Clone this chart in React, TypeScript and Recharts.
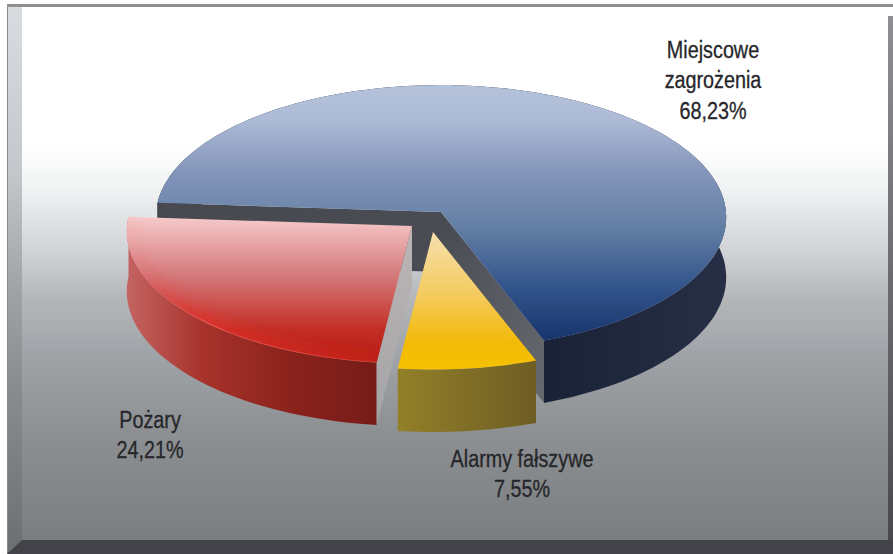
import { Pie, PieChart } from "recharts";

const categories = ["Miejscowe zagrożenia", "Alarmy fałszywe", "Pożary"];
const values = [68.23, 7.55, 24.21];
const labelLines = [["Miejscowe", "zagrożenia"], ["Alarmy fałszywe"], ["Pożary"]];

const W = 893;
const H = 554;
const CX = 442;
const CY = 212;
const RX = 285;
const RY = 132;
const PERSP = 0.04;
const DEPTH = 60;
const FONT = "'Liberation Sans', Arial, sans-serif";

const chartData = categories.map((name, i) => ({ name, value: values[i] }));

// offset of each slice from the disc centre, colours of the faces
const SLICES = [
  { dx: -1, dy: 0, face: "url(#faceBlue)", side: "url(#sideBlue)", startWall: "url(#wallLeft)", endWall: "url(#wallRight)" },
  { dx: -9, dy: 20, face: "url(#faceYellow)", side: "url(#sideYellow)", startWall: null, endWall: null },
  { dx: -30, dy: 14, face: "url(#faceRed)", side: "url(#sideRed)", startWall: "url(#wallRed)", endWall: null },
];

const LABEL_POS = [
  { x: 713, y: 58 },
  { x: 522, y: 467 },
  { x: 150, y: 428 },
];

type P = { x: number; y: number; w: number };

function project(deg: number, dx: number, dy: number): P {
  const a = (deg * Math.PI) / 180;
  const u = Math.cos(a);
  const v = -Math.sin(a);
  const w = 1 - PERSP * v;
  return { x: CX + dx + (RX * u) / w, y: CY + dy + (RY * v) / w, w };
}

const lower = (p: P) => ({ x: p.x, y: p.y + DEPTH / p.w });
const toPath = (pts: { x: number; y: number }[]) =>
  "M" + pts.map((p) => `${p.x.toFixed(1)},${p.y.toFixed(1)}`).join("L") + "Z";
const quad = (a: P, b: P) => toPath([a, b, lower(b), lower(a)]);

function Slice3D(props: any) {
  const i = categories.indexOf(props.name);
  const s = SLICES[i];
  const { startAngle, endAngle } = props;
  const steps = Math.ceil(Math.abs(startAngle - endAngle) / 2);
  const arc: P[] = [];
  for (let k = 0; k <= steps; k++) {
    arc.push(project(startAngle + ((endAngle - startAngle) * k) / steps, s.dx, s.dy));
  }
  const apex: P = { x: CX + s.dx, y: CY + s.dy, w: 1 };
  const sidePath = toPath([...arc, ...[...arc].reverse().map(lower)]);
  const facePath = toPath([apex, ...arc]);
  const rim = "M" + arc.map((p) => `${p.x.toFixed(1)},${p.y.toFixed(1)}`).join("L");
  return (
    <g>
      <path d={sidePath} fill={s.side} />
      {s.startWall && <path d={quad(apex, arc[0])} fill={s.startWall} />}
      {s.endWall && <path d={quad(apex, arc[arc.length - 1])} fill={s.endWall} />}
      <path d={facePath} fill={s.face} />
      {i === 2 && (
        <>
          <clipPath id="redClip">
            <path d={facePath} />
          </clipPath>
          <g clipPath="url(#redClip)">
            <path d={rim} fill="none" stroke="url(#rimSoft)" strokeWidth={18} filter="url(#soft)" />
            <path d={rim} fill="none" stroke="url(#rimLine)" strokeWidth={1.5} />
          </g>
        </>
      )}
    </g>
  );
}

const pct = (v: number) => v.toFixed(2).replace(".", ",") + "%";

function SliceLabel(props: any) {
  const i = categories.indexOf(props.name);
  const pos = LABEL_POS[i];
  const lines = [...labelLines[i], pct(values[i])];
  return (
    <g transform={`translate(${pos.x},${pos.y}) scale(0.86,1)`}>
      {lines.map((line, k) => (
        <text
          key={line}
          x={0}
          y={k * 30.5}
          textAnchor="middle"
          fontFamily={FONT}
          fontSize={23}
          fill="#26262a"
          stroke="#26262a"
          strokeWidth={0.3}
        >
          {line}
        </text>
      ))}
    </g>
  );
}

function Stops({ list }: { list: [number, string][] }) {
  return (
    <>
      {list.map(([o, c]) => (
        <stop key={o} offset={o} stopColor={c} />
      ))}
    </>
  );
}

const box = (extra: object) => ({ position: "absolute" as const, ...extra });

export default function App() {
  return (
    <div style={{ position: "fixed", left: 0, top: 0, width: W, height: H, background: "#fff", overflow: "hidden" }}>
      {/* frame */}
      <div style={box({ left: 7, top: 4, width: 886, height: 3, background: "#8f8f8f" })} />
      <div style={box({ left: 7, top: 7, width: 15, height: 547, background: "linear-gradient(#d8dbdf 0%, #c4c7cb 30%, #a3a6a9 50%, #8a8e90 68%, #6b6f72 100%)", borderLeft: "1px solid #85878a", boxSizing: "border-box" })} />
      <div style={box({ left: 888, top: 16, width: 5, height: 538, background: "linear-gradient(#8e8f92, #47464c)" })} />
      <div
        style={box({
          left: 22,
          top: 7,
          width: 866,
          height: 533,
          background:
            "linear-gradient(#ffffff 0%, #ffffff 26%, #f0f2f3 34%, #d0d2d5 46%, #b4b5b9 55%, #a0a4a8 65%, #8e9194 79%, #7b7e7f 100%)",
        })}
      />
      <div style={box({ left: 7, top: 540, width: 886, height: 14, background: "#45434a", clipPath: "polygon(15px 0, 100% 0, 100% 100%, 0 100%)" })} />

      <div style={box({ left: 0, top: 0 })}>
        <PieChart width={W} height={H} margin={{ top: 0, right: 0, bottom: 0, left: 0 }}>
          <defs>
            <linearGradient id="faceBlue" x1="0" y1="0" x2="0" y2="1">
              <Stops list={[[0, "#b5c2da"], [0.14, "#acbad6"], [0.34, "#8495ba"], [0.55, "#6580a5"], [0.78, "#34568c"], [1, "#17346c"]]} />
            </linearGradient>
            <linearGradient id="sideBlue" x1="0" y1="0" x2="1" y2="0">
              <Stops list={[[0, "#1a2238"], [0.7, "#1b2338"], [1, "#262f45"]]} />
            </linearGradient>
            <linearGradient id="wallLeft" x1="0" y1="0" x2="1" y2="0">
              <Stops list={[[0, "#47494f"], [1, "#4a4c54"]]} />
            </linearGradient>
            <linearGradient id="wallRight" x1="0" y1="0" x2="1" y2="1">
              <Stops list={[[0, "#484a52"], [1, "#666a6e"]]} />
            </linearGradient>
            <linearGradient id="faceYellow" x1="0" y1="0" x2="0" y2="1">
              <Stops list={[[0, "#f6e0ae"], [0.45, "#f4cb60"], [0.8, "#f3ba08"], [1, "#f6c200"]]} />
            </linearGradient>
            <linearGradient id="sideYellow" x1="0" y1="0" x2="1" y2="0">
              <Stops list={[[0, "#938029"], [1, "#6e5d24"]]} />
            </linearGradient>
            <linearGradient id="faceRed" x1="0" y1="0" x2="0" y2="1">
              <Stops list={[[0, "#f6caca"], [0.4, "#d5797b"], [0.78, "#c22d24"], [1, "#b81c14"]]} />
            </linearGradient>
            <linearGradient id="sideRed" x1="0" y1="0" x2="1" y2="0">
              <Stops list={[[0, "#c46462"], [0.3, "#a8332c"], [0.65, "#8b221c"], [1, "#771c18"]]} />
            </linearGradient>
            <linearGradient id="wallRed" x1="0" y1="0" x2="0" y2="1">
              <Stops list={[[0, "#bdb6b6"], [1, "#a3a3a5"]]} />
            </linearGradient>
            <linearGradient id="rimSoft" x1="0" y1="0" x2="1" y2="0">
              <stop offset={0} stopColor="#ec2f28" stopOpacity={0} />
              <stop offset={0.3} stopColor="#ec2f28" stopOpacity={0.55} />
              <stop offset={1} stopColor="#d8281f" stopOpacity={0.3} />
            </linearGradient>
            <linearGradient id="rimLine" x1="0" y1="0" x2="1" y2="0">
              <stop offset={0} stopColor="#f0605a" stopOpacity={0} />
              <stop offset={0.35} stopColor="#f0605a" stopOpacity={0.9} />
              <stop offset={1} stopColor="#e04a3c" stopOpacity={0.6} />
            </linearGradient>
            <filter id="soft" x="-20%" y="-20%" width="140%" height="140%">
              <feGaussianBlur stdDeviation={6} />
            </filter>
          </defs>
          <Pie
            data={chartData}
            dataKey="value"
            nameKey="name"
            cx={CX}
            cy={CY}
            innerRadius={0}
            outerRadius={RX}
            startAngle={176}
            endAngle={-184}
            stroke="none"
            isAnimationActive={false}
            shape={Slice3D}
            label={SliceLabel}
            labelLine={false}
          />
        </PieChart>
      </div>
    </div>
  );
}
